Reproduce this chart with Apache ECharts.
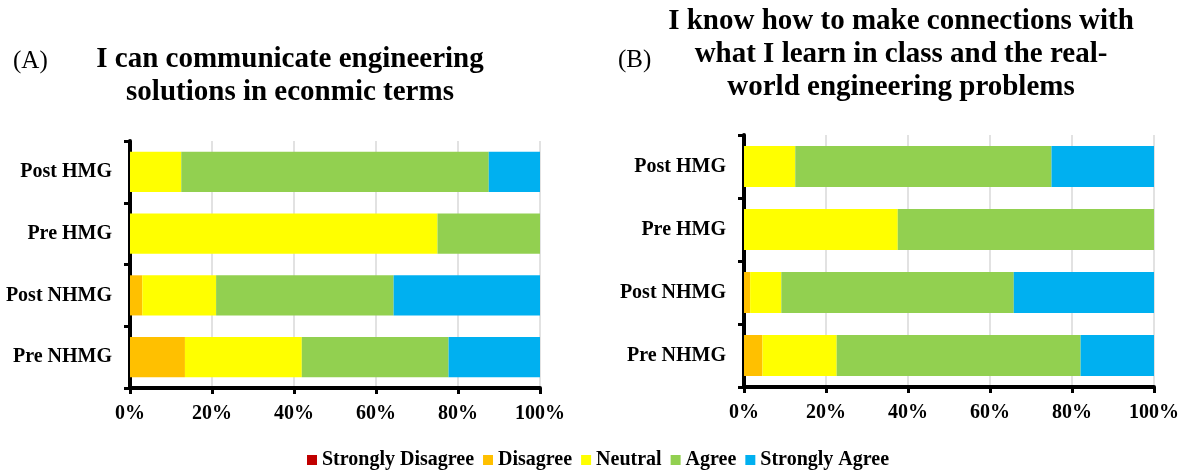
<!DOCTYPE html>
<html>
<head>
<meta charset="utf-8">
<script src="https://cdn.jsdelivr.net/npm/echarts@6/dist/echarts.min.js"></script>
<style>
html,body{margin:0;padding:0;background:#fff;}
#chart{width:1186px;height:473px;}
</style>
</head>
<body>
<div id="chart"></div>
<script>
// Categories (bottom to top)
var categories = ['Pre NHMG', 'Post NHMG', 'Pre HMG', 'Post HMG'];
var seriesNames = ['Strongly Disagree', 'Disagree', 'Neutral', 'Agree', 'Strongly Agree'];
var seriesColors = ['#C00000', '#FFC000', '#FFFF00', '#92D050', '#00B0F0'];
var xTicks = [0, 20, 40, 60, 80, 100];

// Panel A: I can communicate engineering solutions in econmic terms (%)
var aStronglyDisagree = [0, 0, 0, 0];
var aDisagree = [13.4, 3.0, 0, 0];
var aNeutral = [28.5, 18.0, 75, 12.5];
var aAgree = [35.8, 43.3, 25, 75];
var aStronglyAgree = [22.3, 35.7, 0, 12.5];

// Panel B: I know how to make connections ... (%)
var bStronglyDisagree = [0, 0, 0, 0];
var bDisagree = [4.5, 1.5, 0, 0];
var bNeutral = [18.1, 7.6, 37.5, 12.5];
var bAgree = [59.5, 56.7, 62.5, 62.5];
var bStronglyAgree = [17.9, 34.2, 0, 25];

var titleA = 'I can communicate engineering\nsolutions in econmic terms';
var titleB = 'I know how to make connections with\nwhat I learn in class and the real-\nworld engineering problems';

var FONT = '"Liberation Serif", "Times New Roman", serif';
var dataA = [aStronglyDisagree, aDisagree, aNeutral, aAgree, aStronglyAgree];
var dataB = [bStronglyDisagree, bDisagree, bNeutral, bAgree, bStronglyAgree];

function makeX(idx) {
  return {
    type: 'value', gridIndex: idx, min: xTicks[0], max: xTicks[xTicks.length - 1],
    interval: xTicks[1] - xTicks[0],
    axisLine: {show: true, lineStyle: {color: '#000', width: 4}},
    axisTick: {show: true, length: 6, lineStyle: {color: '#000', width: 3}},
    axisLabel: {formatter: '{value}%', fontFamily: FONT, fontWeight: 'bold', fontSize: 20, color: '#000', margin: 16},
    splitLine: {show: true, lineStyle: {color: '#D9D9D9', width: 1.5}}
  };
}
function makeY(idx) {
  return {
    type: 'category', gridIndex: idx, data: categories,
    axisLine: {show: true, lineStyle: {color: '#000', width: 4}},
    axisTick: {show: true, length: 6, lineStyle: {color: '#000', width: 3}},
    axisLabel: {fontFamily: FONT, fontWeight: 'bold', fontSize: 20, color: '#000', margin: 18},
    splitLine: {show: false}
  };
}

var series = [];
[dataA, dataB].forEach(function (d, gi) {
  seriesNames.forEach(function (name, si) {
    series.push({
      name: name, type: 'bar', stack: 'g' + gi,
      xAxisIndex: gi, yAxisIndex: gi,
      barCategoryGap: '35%',
      data: d[si],
      itemStyle: {color: seriesColors[si]},
      emphasis: {disabled: true}
    });
  });
});

var chart = echarts.init(document.getElementById('chart'), null, {renderer: 'canvas'});
chart.setOption({
  animation: false,
  backgroundColor: '#fff',
  title: [
    {text: titleA, left: 290, top: 43, textAlign: 'center', padding: 0,
     textStyle: {fontFamily: FONT, fontWeight: 'bold', fontSize: 29, lineHeight: 33, color: '#000'}},
    {text: titleB, left: 901, top: 5, textAlign: 'center', padding: 0,
     textStyle: {fontFamily: FONT, fontWeight: 'bold', fontSize: 29, lineHeight: 33, color: '#000'}},
    {text: '(A)', left: 13, top: 49, padding: 0,
     textStyle: {fontFamily: FONT, fontWeight: 'normal', fontSize: 25, lineHeight: 25, color: '#000'}},
    {text: '(B)', left: 618, top: 48, padding: 0,
     textStyle: {fontFamily: FONT, fontWeight: 'normal', fontSize: 25, lineHeight: 25, color: '#000'}}
  ],
  legend: {
    data: seriesNames, left: 307, top: 450, icon: 'rect', itemWidth: 10, itemHeight: 10, itemGap: 9,
    padding: 0, selectedMode: false,
    textStyle: {fontFamily: FONT, fontWeight: 'bold', fontSize: 20, color: '#000'}
  },
  grid: [
    {left: 130, top: 141, width: 410, height: 247},
    {left: 744, top: 135, width: 410, height: 252}
  ],
  xAxis: [makeX(0), makeX(1)],
  yAxis: [makeY(0), makeY(1)],
  series: series
});
</script>
</body>
</html>
